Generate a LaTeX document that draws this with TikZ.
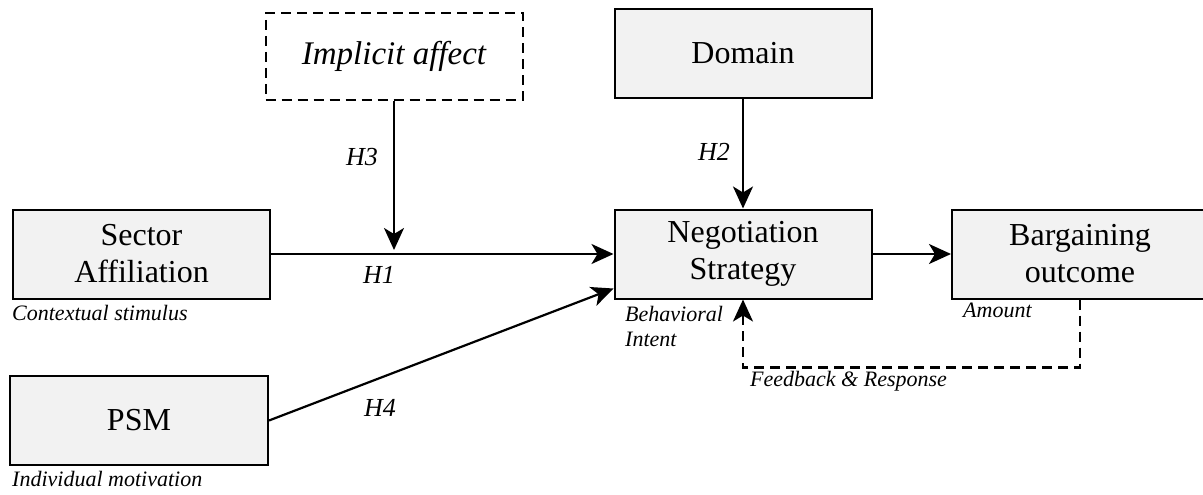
\documentclass[tikz,border=0pt]{standalone}
\usepackage{fontspec}
\setmainfont{Liberation Serif}
\usetikzlibrary{arrows.meta,calc}
\definecolor{boxgray}{HTML}{F2F2F2}
\tikzset{
  factor/.style={draw, line width=2pt, fill=boxgray, minimum width=257pt, minimum height=89pt,
    align=center, font=\fontsize{32}{37}\selectfont},
  moderator/.style={factor, dash pattern=on 10pt off 6pt, fill=none, font=\fontsize{33}{37}\selectfont\itshape},
  link/.style={line width=2.2pt, -{Stealth[length=22pt,width=20pt,inset=6pt]}},
  hyp/.style={font=\fontsize{26}{30}\selectfont\itshape},
  note/.style={font=\fontsize{22}{25}\selectfont\itshape, inner sep=0pt, align=left},
}
\begin{document}
\begin{tikzpicture}[x=1pt,y=-1pt]
\useasboundingbox (0,0) rectangle (1203,495);
% factors
\node[factor] (sector) at (141.5,254) {Sector\\Affiliation};
\node[moderator, minimum height=87pt] (implicit) at (394,56.5) {Implicit affect};
\node[factor] (domain) at (743,53.5) {Domain};
\node[factor] (nego) at (743,254) {Negotiation\\Strategy};
\node[factor, minimum width=256pt] (bargain) at (1080,254) {Bargaining\\outcome};
\node[factor, minimum width=258pt] (psm) at (139,420.5) {PSM};
% paths
\coordinate (h3tip) at (394,250);
\draw[link] (sector.east) -- (nego.west);
\draw[link] (implicit.south) -- (h3tip);
\draw[link] (domain.south) -- (nego.north);
\draw[link] (psm.east) -- ($(nego.south west)+(0,-11)$);
\draw[link] (nego.east) -- (bargain.west);
\draw[link, dash pattern=on 10pt off 6pt] (bargain.south) -- ++(0,68) -| (nego.south);
% hypotheses
\node[hyp] (h3) at (362,157) {H3};
\node[hyp] (h2) at (714,152) {H2};
\node[hyp] (h1) at (379,275) {H1};
\node[hyp] (h4) at (380,408) {H4};
% notes
\node[note, anchor=west] (context) at (12,313) {Contextual stimulus};
\node[note, anchor=north west] (intent) at (625,306) {Behavioral\\Intent};
\node[note, anchor=west] (amount) at (963,310) {Amount};
\node[note, anchor=west] (feedback) at (750,381) {Feedback \& Response};
\node[note, anchor=west] (motive) at (12,479) {Individual motivation};
\end{tikzpicture}
\end{document}
